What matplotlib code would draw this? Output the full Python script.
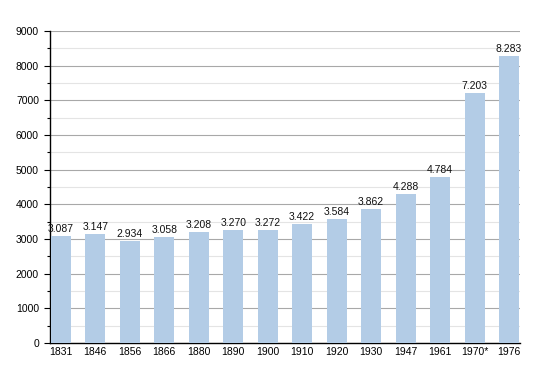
import matplotlib
matplotlib.use('Agg')
import matplotlib.pyplot as plt
from matplotlib.ticker import MultipleLocator

# Population per census year
years = ['1831', '1846', '1856', '1866', '1880', '1890', '1900',
         '1910', '1920', '1930', '1947', '1961', '1970*', '1976']
population = [3087, 3147, 2934, 3058, 3208, 3270, 3272,
              3422, 3584, 3862, 4288, 4784, 7203, 8283]

plt.rcParams['font.family'] = ['Liberation Sans', 'DejaVu Sans']

fig = plt.figure(figsize=(5.5, 3.73), dpi=100)
ax = fig.add_axes([0.091, 0.080, 0.854, 0.837])

x = list(range(len(years)))
ax.bar(x, population, width=0.58, color='#b3cce6', zorder=3)

# value labels with dot as thousands separator
for xi, v in zip(x, population):
    ax.text(xi, v + 60, f'{v:,}'.replace(',', '.'), ha='center', va='bottom',
            fontsize=7.5, color='#111111', zorder=4)

ax.set_ylim(0, 9000)
ax.set_xlim(-0.31, len(years) - 0.69)
ax.yaxis.set_major_locator(MultipleLocator(1000))
ax.yaxis.set_minor_locator(MultipleLocator(500))
ax.grid(axis='y', which='major', color='#a8a8a8', linewidth=0.8, zorder=0)
ax.grid(axis='y', which='minor', color='#e4e4e4', linewidth=0.8, zorder=0)

ax.set_xticks(x)
ax.set_xticklabels(years)
ax.tick_params(axis='x', length=0, pad=3, labelsize=7.5)
ax.tick_params(axis='y', which='major', length=4, width=0.8, pad=4, labelsize=7.5)
ax.tick_params(axis='y', which='minor', length=2, width=0.8)

for side in ['top', 'right']:
    ax.spines[side].set_visible(False)
ax.spines['left'].set_linewidth(1.0)
ax.spines['bottom'].set_linewidth(1.0)

fig.savefig('out.png', dpi=100)
